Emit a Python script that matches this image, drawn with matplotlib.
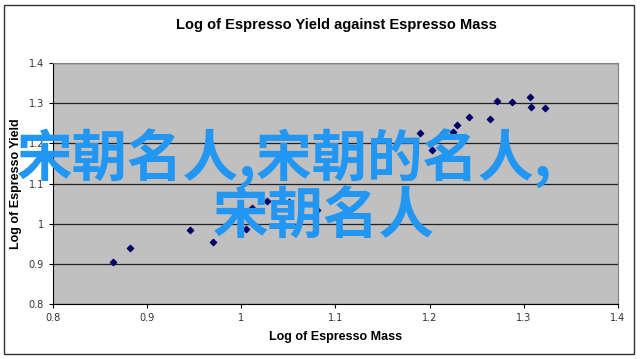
import matplotlib.pyplot as plt
from matplotlib.patches import Rectangle

# data
mass = [0.864, 0.882, 0.945, 0.970, 1.005, 1.011, 1.027, 1.051, 1.080,
        1.190, 1.203, 1.214, 1.225, 1.229, 1.242, 1.264, 1.272, 1.287,
        1.307, 1.308, 1.323]
yield_ = [0.904, 0.939, 0.984, 0.954, 0.987, 1.039, 1.056, 1.054, 1.034,
          1.225, 1.183, 1.225, 1.228, 1.245, 1.265, 1.260, 1.305, 1.302,
          1.315, 1.290, 1.288]
xticks = [0.8, 0.9, 1, 1.1, 1.2, 1.3, 1.4]
yticks = [0.8, 0.9, 1, 1.1, 1.2, 1.3, 1.4]
title = 'Log of Espresso Yield against Espresso Mass'
xlabel = 'Log of Espresso Mass'
ylabel = 'Log of Espresso Yield'
watermark1 = '宋朝名人,宋朝的名人,'
watermark2 = '宋朝名人'

fig = plt.figure(figsize=(6.4, 3.59), dpi=100)
fig.patches.append(Rectangle((0.007, 0.014), 0.984, 0.972, transform=fig.transFigure,
                             fill=False, edgecolor='#333333', linewidth=1))

ax = fig.add_axes([0.0828, 0.1532, 0.8828, 0.6713])
ax.set_facecolor('#c0c0c0')
ax.scatter(mass, yield_, marker='D', s=10, color='#000066', zorder=3)
ax.set_xlim(0.8, 1.4)
ax.set_ylim(0.8, 1.4)
ax.set_xticks(xticks)
ax.set_yticks(yticks)
ax.set_xticklabels([str(t) for t in xticks])
ax.set_yticklabels([str(t) for t in yticks])
ax.yaxis.grid(True, color='#222222', linewidth=0.9)
ax.set_axisbelow(True)
for side in ['top', 'right']:
    ax.spines[side].set_color('#808080')
for side in ['left', 'bottom']:
    ax.spines[side].set_color('black')
ax.tick_params(direction='out', length=3, labelsize=7, colors='black', labelcolor='#333333')

fig.text(0.526, 0.93, title, ha='center', va='center', fontsize=10.5,
         fontweight='bold', family='Liberation Sans')
ax.set_xlabel(xlabel, fontsize=9, fontweight='bold', family='Liberation Sans', labelpad=6)
ax.set_ylabel(ylabel, fontsize=9, fontweight='bold', family='Liberation Sans', labelpad=5)

fig.text(0.445, 0.56, watermark1, ha='center', va='center', fontsize=40,
         color='#2196f3', fontweight='bold', family=['Noto Sans CJK SC', 'DejaVu Sans'])
fig.text(0.506, 0.397, watermark2, ha='center', va='center', fontsize=40,
         color='#2196f3', fontweight='bold', family=['Noto Sans CJK SC', 'DejaVu Sans'])

fig.savefig('out.png', dpi=100)
